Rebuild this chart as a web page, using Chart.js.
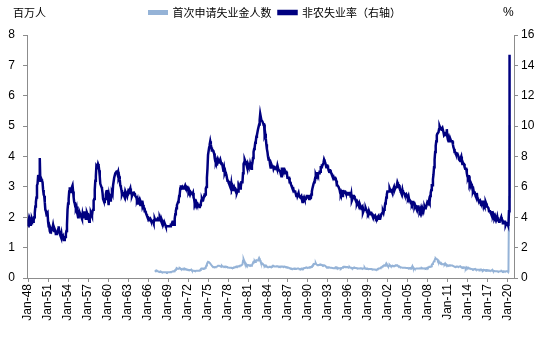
<!DOCTYPE html>
<html>
<head>
<meta charset="utf-8">
<script src="https://cdn.jsdelivr.net/npm/chart.js@4.4.1/dist/chart.umd.min.js"></script>
<style>
  body { margin: 0; background: #fff; }
  #wrap { width: 550px; height: 339px; }
</style>
</head>
<body>
<div id="wrap"><canvas id="chart" width="550" height="339"></canvas></div>
<script>
// Non-farm unemployment rate (%), monthly, Jan 1948 - Apr 2020
const rateStartYear = 1948;
const unemploymentRate = [
  3.4, 3.8, 4.0, 3.9, 3.5, 3.6, 3.6, 3.9, 3.8, 3.7, 3.8, 4.0,
  4.3, 4.7, 5.0, 5.3, 6.1, 6.2, 6.7, 6.8, 6.6, 7.9, 6.4, 6.6,
  6.5, 6.4, 6.3, 5.8, 5.5, 5.4, 5.0, 4.5, 4.4, 4.2, 4.2, 4.3,
  3.7, 3.4, 3.4, 3.1, 3.0, 3.2, 3.1, 3.1, 3.3, 3.5, 3.5, 3.1,
  3.2, 3.1, 2.9, 2.9, 3.0, 3.0, 3.2, 3.4, 3.1, 3.0, 2.8, 2.7,
  2.9, 2.6, 2.6, 2.7, 2.5, 2.5, 2.6, 2.7, 2.9, 3.1, 3.5, 4.5,
  4.9, 5.2, 5.7, 5.9, 5.9, 5.6, 5.8, 6.0, 6.1, 5.7, 5.3, 5.0,
  4.9, 4.7, 4.6, 4.7, 4.3, 4.2, 4.0, 4.2, 4.1, 4.3, 4.2, 4.2,
  4.0, 3.9, 4.2, 4.0, 4.3, 4.3, 4.4, 4.1, 3.9, 3.9, 4.3, 4.2,
  4.2, 3.9, 3.7, 3.9, 4.1, 4.3, 4.2, 4.1, 4.4, 4.5, 5.1, 5.2,
  5.8, 6.4, 6.7, 7.4, 7.4, 7.3, 7.5, 7.4, 7.1, 6.7, 6.2, 6.2,
  6.0, 5.9, 5.6, 5.2, 5.1, 5.0, 5.1, 5.2, 5.5, 5.7, 5.8, 5.3,
  5.2, 4.8, 5.4, 5.2, 5.1, 5.4, 5.5, 5.6, 5.5, 6.1, 6.1, 6.6,
  6.6, 6.9, 6.9, 7.0, 7.1, 6.9, 7.0, 6.6, 6.7, 6.5, 6.1, 6.0,
  5.8, 5.5, 5.6, 5.6, 5.5, 5.5, 5.4, 5.7, 5.6, 5.4, 5.7, 5.5,
  5.7, 5.9, 5.7, 5.7, 5.9, 5.6, 5.6, 5.4, 5.5, 5.5, 5.7, 5.5,
  5.6, 5.4, 5.4, 5.3, 5.1, 5.2, 4.9, 5.0, 5.1, 5.1, 4.8, 5.0,
  4.9, 5.1, 4.7, 4.8, 4.6, 4.6, 4.4, 4.4, 4.3, 4.2, 4.1, 4.0,
  4.0, 3.8, 3.8, 3.8, 3.9, 3.8, 3.8, 3.8, 3.7, 3.7, 3.6, 3.8,
  3.9, 3.8, 3.8, 3.8, 3.8, 3.9, 3.8, 3.8, 3.8, 4.0, 3.9, 3.8,
  3.7, 3.8, 3.7, 3.5, 3.5, 3.7, 3.7, 3.5, 3.4, 3.4, 3.4, 3.4,
  3.4, 3.4, 3.4, 3.4, 3.4, 3.5, 3.5, 3.5, 3.7, 3.7, 3.5, 3.5,
  3.9, 4.2, 4.4, 4.6, 4.8, 4.9, 5.0, 5.1, 5.4, 5.5, 5.9, 6.1,
  5.9, 5.9, 6.0, 5.9, 5.9, 5.9, 6.0, 6.1, 6.0, 5.8, 6.0, 6.0,
  5.8, 5.7, 5.8, 5.7, 5.7, 5.7, 5.6, 5.6, 5.5, 5.6, 5.3, 5.2,
  4.9, 5.0, 4.9, 5.0, 4.9, 4.9, 4.8, 4.8, 4.8, 4.6, 4.8, 4.9,
  5.1, 5.2, 5.1, 5.1, 5.1, 5.4, 5.5, 5.5, 5.9, 6.0, 6.6, 7.2,
  8.1, 8.1, 8.6, 8.8, 9.0, 8.8, 8.6, 8.4, 8.4, 8.4, 8.3, 8.2,
  7.9, 7.7, 7.6, 7.7, 7.4, 7.6, 7.8, 7.8, 7.6, 7.7, 7.8, 7.8,
  7.5, 7.6, 7.4, 7.2, 7.0, 7.2, 6.9, 7.0, 6.8, 6.8, 6.8, 6.4,
  6.4, 6.3, 6.3, 6.1, 6.0, 5.9, 6.2, 5.9, 6.0, 5.8, 5.9, 6.0,
  5.9, 5.9, 5.8, 5.8, 5.6, 5.7, 5.7, 6.0, 5.9, 6.0, 5.9, 6.0,
  6.3, 6.3, 6.3, 6.9, 7.5, 7.6, 7.8, 7.7, 7.5, 7.5, 7.5, 7.2,
  7.5, 7.4, 7.4, 7.2, 7.5, 7.5, 7.2, 7.4, 7.6, 7.9, 8.3, 8.5,
  8.6, 8.9, 9.0, 9.3, 9.4, 9.6, 9.8, 9.8, 10.1, 10.4, 10.8, 10.8,
  10.4, 10.4, 10.3, 10.2, 10.1, 10.1, 9.4, 9.5, 9.2, 8.8, 8.5, 8.3,
  8.0, 7.8, 7.8, 7.7, 7.4, 7.2, 7.5, 7.5, 7.3, 7.4, 7.2, 7.3,
  7.3, 7.2, 7.2, 7.3, 7.2, 7.4, 7.4, 7.1, 7.1, 7.1, 7.0, 7.0,
  6.7, 7.2, 7.2, 7.1, 7.2, 7.2, 7.0, 6.9, 7.0, 7.0, 6.9, 6.6,
  6.6, 6.6, 6.6, 6.3, 6.3, 6.2, 6.1, 6.0, 5.9, 6.0, 5.8, 5.7,
  5.7, 5.7, 5.7, 5.4, 5.6, 5.4, 5.4, 5.6, 5.4, 5.4, 5.3, 5.3,
  5.4, 5.2, 5.0, 5.2, 5.2, 5.3, 5.2, 5.2, 5.3, 5.3, 5.4, 5.4,
  5.4, 5.3, 5.2, 5.4, 5.4, 5.2, 5.5, 5.7, 5.9, 5.9, 6.2, 6.3,
  6.4, 6.6, 6.8, 6.7, 6.9, 6.9, 6.8, 6.9, 6.9, 7.0, 7.0, 7.3,
  7.3, 7.4, 7.4, 7.4, 7.6, 7.8, 7.7, 7.6, 7.6, 7.3, 7.4, 7.4,
  7.3, 7.1, 7.0, 7.1, 7.1, 7.0, 6.9, 6.8, 6.7, 6.8, 6.6, 6.5,
  6.6, 6.6, 6.5, 6.4, 6.1, 6.1, 6.1, 6.0, 5.9, 5.8, 5.6, 5.5,
  5.6, 5.4, 5.4, 5.8, 5.6, 5.6, 5.7, 5.7, 5.6, 5.5, 5.6, 5.6,
  5.6, 5.5, 5.5, 5.6, 5.6, 5.3, 5.5, 5.1, 5.2, 5.2, 5.4, 5.4,
  5.3, 5.2, 5.2, 5.1, 4.9, 5.0, 4.9, 4.8, 4.9, 4.7, 4.6, 4.7,
  4.6, 4.6, 4.7, 4.3, 4.4, 4.5, 4.5, 4.5, 4.6, 4.5, 4.4, 4.4,
  4.3, 4.4, 4.2, 4.3, 4.2, 4.3, 4.3, 4.2, 4.2, 4.1, 4.1, 4.0,
  4.0, 4.1, 4.0, 3.8, 4.0, 4.0, 4.0, 4.1, 3.9, 3.9, 3.9, 3.9,
  4.2, 4.2, 4.3, 4.4, 4.3, 4.5, 4.6, 4.9, 5.0, 5.3, 5.5, 5.7,
  5.7, 5.7, 5.7, 5.9, 5.8, 5.8, 5.8, 5.7, 5.7, 5.7, 5.9, 6.0,
  5.8, 5.9, 5.9, 6.0, 6.1, 6.3, 6.2, 6.1, 6.1, 6.0, 5.8, 5.7,
  5.7, 5.6, 5.8, 5.6, 5.6, 5.6, 5.5, 5.4, 5.4, 5.5, 5.4, 5.4,
  5.3, 5.4, 5.2, 5.2, 5.1, 5.0, 5.0, 4.9, 5.0, 5.0, 5.0, 4.9,
  4.7, 4.8, 4.7, 4.7, 4.6, 4.6, 4.7, 4.7, 4.5, 4.4, 4.5, 4.4,
  4.6, 4.5, 4.4, 4.5, 4.4, 4.6, 4.7, 4.6, 4.7, 4.7, 4.7, 5.0,
  5.0, 4.9, 5.1, 5.0, 5.4, 5.6, 5.8, 6.1, 6.1, 6.5, 6.8, 7.3,
  7.8, 8.3, 8.7, 9.0, 9.4, 9.5, 9.5, 9.6, 9.8, 10.0, 9.9, 9.9,
  9.8, 9.8, 9.9, 9.9, 9.6, 9.4, 9.4, 9.5, 9.5, 9.4, 9.8, 9.3,
  9.1, 9.0, 9.0, 9.1, 9.0, 9.1, 9.0, 9.0, 9.0, 8.8, 8.6, 8.5,
  8.3, 8.3, 8.2, 8.2, 8.2, 8.2, 8.2, 8.0, 7.8, 7.8, 7.7, 7.9,
  8.0, 7.7, 7.5, 7.6, 7.5, 7.5, 7.3, 7.2, 7.2, 7.2, 6.9, 6.7,
  6.6, 6.7, 6.7, 6.2, 6.3, 6.1, 6.2, 6.1, 5.9, 5.7, 5.8, 5.6,
  5.7, 5.5, 5.4, 5.4, 5.6, 5.3, 5.2, 5.1, 5.0, 5.0, 5.1, 5.0,
  4.8, 4.9, 5.0, 5.1, 4.8, 4.9, 4.8, 4.9, 5.0, 4.9, 4.7, 4.7,
  4.7, 4.6, 4.4, 4.4, 4.4, 4.3, 4.3, 4.4, 4.2, 4.1, 4.2, 4.1,
  4.0, 4.1, 4.0, 4.0, 3.8, 4.0, 3.8, 3.8, 3.7, 3.8, 3.8, 3.9,
  4.0, 3.8, 3.8, 3.6, 3.6, 3.7, 3.7, 3.7, 3.5, 3.6, 3.6, 3.6,
  3.5, 3.5, 4.4, 14.7
];

// Initial jobless claims (millions), monthly, Jan 1967 - Apr 2020
const claimsStartYear = 1967;
const initialClaims = [
  0.21, 0.22, 0.24, 0.25, 0.24, 0.23, 0.22, 0.21, 0.20, 0.20, 0.20, 0.21,
  0.20, 0.19, 0.19, 0.19, 0.19, 0.19, 0.19, 0.19, 0.19, 0.19, 0.18, 0.19,
  0.19, 0.19, 0.19, 0.19, 0.19, 0.20, 0.20, 0.20, 0.21, 0.21, 0.22, 0.22,
  0.24, 0.26, 0.27, 0.31, 0.32, 0.31, 0.30, 0.30, 0.31, 0.33, 0.32, 0.30,
  0.30, 0.30, 0.29, 0.28, 0.29, 0.28, 0.31, 0.30, 0.29, 0.29, 0.28, 0.27,
  0.27, 0.26, 0.26, 0.26, 0.26, 0.27, 0.28, 0.25, 0.25, 0.24, 0.24, 0.24,
  0.23, 0.23, 0.23, 0.24, 0.24, 0.24, 0.24, 0.24, 0.24, 0.25, 0.26, 0.29,
  0.31, 0.31, 0.31, 0.30, 0.31, 0.31, 0.32, 0.34, 0.37, 0.41, 0.46, 0.50,
  0.53, 0.52, 0.52, 0.50, 0.47, 0.45, 0.42, 0.40, 0.38, 0.37, 0.36, 0.36,
  0.36, 0.35, 0.36, 0.37, 0.37, 0.38, 0.40, 0.40, 0.40, 0.40, 0.39, 0.38,
  0.38, 0.40, 0.38, 0.37, 0.37, 0.38, 0.37, 0.38, 0.38, 0.37, 0.36, 0.36,
  0.35, 0.35, 0.34, 0.34, 0.34, 0.34, 0.34, 0.33, 0.33, 0.33, 0.34, 0.35,
  0.35, 0.35, 0.35, 0.38, 0.37, 0.38, 0.38, 0.39, 0.39, 0.40, 0.41, 0.41,
  0.41, 0.41, 0.45, 0.57, 0.62, 0.57, 0.51, 0.50, 0.46, 0.45, 0.42, 0.43,
  0.43, 0.43, 0.42, 0.41, 0.42, 0.42, 0.40, 0.42, 0.45, 0.50, 0.54, 0.55,
  0.56, 0.53, 0.56, 0.59, 0.59, 0.58, 0.58, 0.62, 0.66, 0.62, 0.58, 0.52,
  0.48, 0.47, 0.48, 0.46, 0.43, 0.40, 0.39, 0.41, 0.40, 0.37, 0.38, 0.36,
  0.35, 0.35, 0.36, 0.37, 0.37, 0.36, 0.36, 0.38, 0.39, 0.40, 0.40, 0.38,
  0.38, 0.38, 0.38, 0.38, 0.39, 0.39, 0.38, 0.38, 0.38, 0.37, 0.38, 0.38,
  0.37, 0.38, 0.38, 0.37, 0.37, 0.38, 0.37, 0.37, 0.36, 0.36, 0.35, 0.35,
  0.35, 0.34, 0.33, 0.32, 0.32, 0.31, 0.31, 0.30, 0.30, 0.30, 0.31, 0.30,
  0.31, 0.31, 0.31, 0.30, 0.30, 0.31, 0.31, 0.31, 0.30, 0.29, 0.29, 0.30,
  0.31, 0.30, 0.31, 0.30, 0.31, 0.33, 0.33, 0.33, 0.33, 0.35, 0.34, 0.34,
  0.34, 0.34, 0.34, 0.35, 0.35, 0.36, 0.36, 0.38, 0.40, 0.43, 0.46, 0.45,
  0.45, 0.48, 0.49, 0.45, 0.44, 0.42, 0.43, 0.43, 0.43, 0.44, 0.45, 0.44,
  0.44, 0.43, 0.42, 0.41, 0.42, 0.42, 0.42, 0.40, 0.38, 0.37, 0.36, 0.34,
  0.35, 0.35, 0.35, 0.35, 0.34, 0.34, 0.34, 0.34, 0.33, 0.33, 0.32, 0.32,
  0.33, 0.34, 0.35, 0.35, 0.33, 0.34, 0.33, 0.32, 0.32, 0.32, 0.32, 0.31,
  0.33, 0.33, 0.34, 0.36, 0.37, 0.37, 0.37, 0.35, 0.36, 0.35, 0.36, 0.36,
  0.35, 0.35, 0.35, 0.36, 0.34, 0.34, 0.34, 0.32, 0.32, 0.33, 0.33, 0.33,
  0.34, 0.33, 0.33, 0.33, 0.32, 0.32, 0.32, 0.31, 0.31, 0.31, 0.31, 0.32,
  0.32, 0.31, 0.31, 0.31, 0.31, 0.32, 0.34, 0.31, 0.31, 0.30, 0.31, 0.31,
  0.30, 0.29, 0.30, 0.30, 0.30, 0.30, 0.30, 0.29, 0.29, 0.29, 0.28, 0.28,
  0.28, 0.28, 0.27, 0.27, 0.28, 0.29, 0.30, 0.31, 0.31, 0.31, 0.32, 0.34,
  0.35, 0.36, 0.38, 0.39, 0.40, 0.40, 0.41, 0.40, 0.44, 0.48, 0.45, 0.42,
  0.39, 0.38, 0.40, 0.43, 0.41, 0.39, 0.39, 0.40, 0.41, 0.40, 0.39, 0.38,
  0.38, 0.40, 0.42, 0.42, 0.42, 0.42, 0.40, 0.39, 0.39, 0.37, 0.36, 0.36,
  0.35, 0.35, 0.34, 0.34, 0.34, 0.34, 0.34, 0.34, 0.34, 0.33, 0.33, 0.33,
  0.33, 0.31, 0.33, 0.32, 0.33, 0.33, 0.31, 0.31, 0.39, 0.34, 0.32, 0.32,
  0.30, 0.30, 0.30, 0.31, 0.31, 0.31, 0.31, 0.31, 0.31, 0.31, 0.32, 0.32,
  0.31, 0.33, 0.32, 0.32, 0.31, 0.31, 0.31, 0.32, 0.31, 0.32, 0.33, 0.34,
  0.33, 0.35, 0.36, 0.37, 0.37, 0.38, 0.39, 0.44, 0.46, 0.48, 0.52, 0.55,
  0.58, 0.63, 0.65, 0.63, 0.62, 0.61, 0.56, 0.57, 0.54, 0.52, 0.48, 0.47,
  0.46, 0.47, 0.45, 0.45, 0.45, 0.46, 0.45, 0.48, 0.45, 0.45, 0.43, 0.42,
  0.41, 0.40, 0.40, 0.42, 0.42, 0.42, 0.41, 0.41, 0.41, 0.40, 0.39, 0.38,
  0.37, 0.36, 0.37, 0.38, 0.38, 0.38, 0.37, 0.37, 0.37, 0.37, 0.39, 0.37,
  0.35, 0.35, 0.35, 0.34, 0.35, 0.35, 0.34, 0.33, 0.31, 0.35, 0.33, 0.34,
  0.33, 0.34, 0.32, 0.31, 0.31, 0.31, 0.30, 0.30, 0.29, 0.28, 0.29, 0.29,
  0.29, 0.30, 0.28, 0.28, 0.28, 0.27, 0.27, 0.27, 0.27, 0.26, 0.27, 0.28,
  0.28, 0.26, 0.26, 0.25, 0.27, 0.26, 0.26, 0.26, 0.25, 0.26, 0.25, 0.26,
  0.25, 0.24, 0.25, 0.24, 0.24, 0.24, 0.24, 0.24, 0.27, 0.24, 0.24, 0.23,
  0.23, 0.22, 0.22, 0.22, 0.22, 0.22, 0.21, 0.21, 0.21, 0.21, 0.22, 0.22,
  0.22, 0.23, 0.22, 0.21, 0.22, 0.22, 0.21, 0.21, 0.21, 0.22, 0.22, 0.23,
  0.21, 0.21, 2.67, 5.03
];

// x-axis: one tick every 3 years, Jan-48 ... Jan-20
const tickYears = [];
for (let y = 1948; y <= 2020; y += 3) tickYears.push(y);
const tickLabels = tickYears.map(y => 'Jan-' + String(y).slice(2));

const seriesNames = ['首次申请失业金人数', '非农失业率（右轴）'];

// month index from Jan-48
const monthIndex = (startYear, i) => (startYear - 1948) * 12 + i;
const rateData = unemploymentRate.map((v, i) => ({ x: monthIndex(rateStartYear, i), y: v }));
const claimsData = initialClaims.map((v, i) => ({ x: monthIndex(claimsStartYear, i), y: v }));
const tickIdx = tickYears.map(y => (y - 1948) * 12);

const axisColor = '#8c8c8c';
const tickFont = { family: 'Liberation Sans, Arial, sans-serif', size: 12 };

// unit captions above the two y axes, plus a bit more room under the legend
const unitLabels = {
    id: 'unitLabels',
    afterInit(chart) {
        const legend = chart.legend;
        const baseFit = legend.fit;
        legend.fit = function () {
            baseFit.call(this);
            this.height += 7;
        };
    },
    afterDraw(chart) {
        const ctx = chart.ctx;
        ctx.save();
        ctx.fillStyle = '#000';
        ctx.textBaseline = 'middle';
        ctx.font = '11px "Noto Sans CJK SC", sans-serif';
        ctx.textAlign = 'left';
        ctx.fillText('百万人', 13, 13);
        ctx.font = '12px "Liberation Sans", Arial, sans-serif';
        ctx.fillText('%', 503, 13);
        ctx.restore();
    }
};

new Chart(document.getElementById('chart'), {
    type: 'line',
    data: {
        datasets: [{
            label: seriesNames[0],
            data: claimsData,
            borderColor: '#95b3d7',
            backgroundColor: '#95b3d7',
            borderWidth: 2,
            yAxisID: 'y',
            order: 1
        }, {
            label: seriesNames[1],
            data: rateData,
            borderColor: '#000080',
            backgroundColor: '#000080',
            borderWidth: 2.5,
            yAxisID: 'y1',
            order: 0
        }]
    },
    options: {
        responsive: false,
        animation: false,
        events: [],
        elements: { point: { radius: 0 }, line: { tension: 0 } },
        layout: { padding: { left: 0, right: 0, top: 0, bottom: 8 } },
        plugins: {
            tooltip: { enabled: false },
            legend: {
                position: 'top',
                labels: {
                    boxWidth: 18,
                    boxHeight: 3,
                    padding: 7,
                    color: '#000',
                    font: { family: '"Noto Sans CJK SC", sans-serif', size: 11 },
                    sort: (a, b) => a.datasetIndex - b.datasetIndex
                }
            }
        },
        scales: {
            x: {
                type: 'linear',
                min: -2,
                max: 875,
                afterBuildTicks: axis => { axis.ticks = tickIdx.map(v => ({ value: v })); },
                afterFit: axis => { axis.height = 53; },
                grid: { drawOnChartArea: false, color: axisColor, tickLength: 4 },
                border: { color: axisColor },
                ticks: {
                    autoSkip: false,
                    maxRotation: 90,
                    minRotation: 90,
                    padding: 2,
                    color: '#000',
                    font: tickFont,
                    callback: v => tickLabels[tickIdx.indexOf(v)]
                }
            },
            y: {
                position: 'left',
                min: 0,
                max: 8,
                afterFit: axis => { axis.width = 27; },
                grid: { drawOnChartArea: false, color: axisColor, tickLength: 4 },
                border: { color: axisColor },
                ticks: { stepSize: 1, padding: 8, color: '#000', font: tickFont }
            },
            y1: {
                position: 'right',
                min: 0,
                max: 16,
                afterFit: axis => { axis.width = 36; },
                grid: { drawOnChartArea: false, color: axisColor, tickLength: 4 },
                border: { color: axisColor },
                ticks: { stepSize: 2, padding: 3, color: '#000', font: tickFont }
            }
        }
    },
    plugins: [unitLabels]
});
</script>
</body>
</html>
